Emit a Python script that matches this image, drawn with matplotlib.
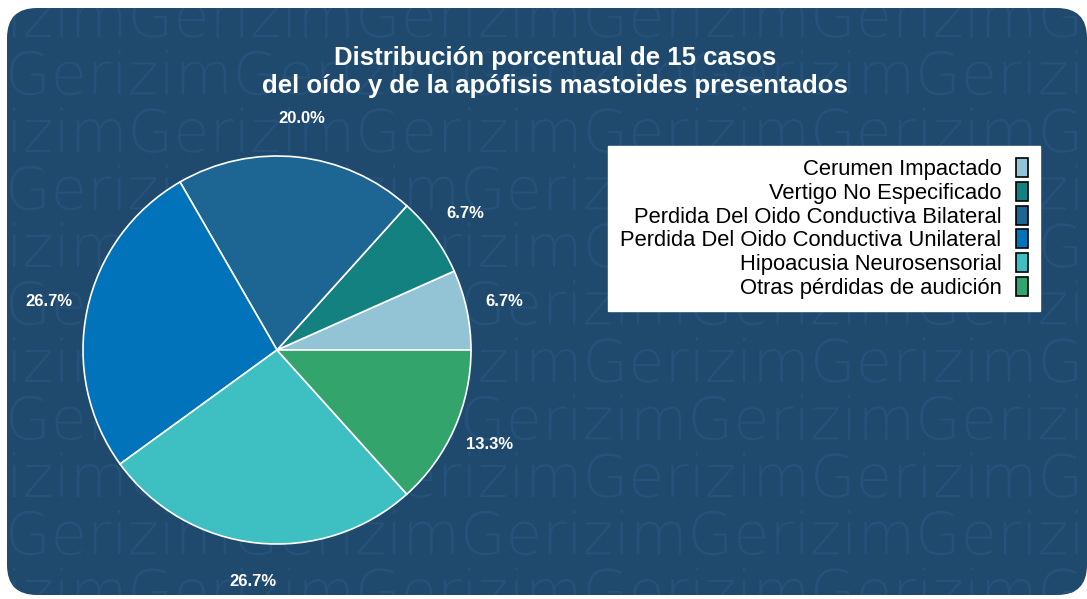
import matplotlib.pyplot as plt
from matplotlib.patches import FancyBboxPatch, Patch, PathPatch
from matplotlib.textpath import TextPath
from matplotlib.font_manager import FontProperties
from matplotlib.transforms import IdentityTransform

# data
categories = ['Cerumen Impactado', 'Vertigo No Especificado',
              'Perdida Del Oido Conductiva Bilateral',
              'Perdida Del Oido Conductiva Unilateral',
              'Hipoacusia Neurosensorial', 'Otras pérdidas de audición']
casos = [1, 1, 3, 4, 4, 2]
colores = ['#92c4d6', '#13817f', '#1d6592', '#0073bb', '#3ebfc1', '#33a46c']
titulo = 'Distribución porcentual de 15 casos\ndel oído y de la apófisis mastoides presentados'

W, H = 1087, 599
bg = '#1f4a6d'
wm = '#25517a'

plt.rcParams['font.family'] = ['Liberation Sans', 'DejaVu Sans']
fig = plt.figure(figsize=(W / 100, H / 100), dpi=100)
fig.patch.set_facecolor('white')

# rounded dark background
box = FancyBboxPatch((7, 4), 1080, 587, boxstyle='round,pad=0,rounding_size=30',
                     transform=IdentityTransform(), facecolor=bg, edgecolor='none',
                     zorder=0)
fig.patches.append(box)

# watermark rows (as paths so the rounded clip works)
fp = FontProperties(family='DejaVu Sans', weight='light')
for k in range(11):
    yb = H - (37 + 57.5 * k)
    x0 = -100 if k % 2 == 0 else 5
    tp = TextPath((x0, yb), 'Gerizim' * 7, size=59, prop=fp)
    pp = PathPatch(tp, transform=IdentityTransform(), facecolor=wm,
                   edgecolor='none', zorder=1)
    pp.set_clip_path(box)
    fig.patches.append(pp)

# pie
cx, cy, R = 277, H - 350, 194
ax = fig.add_axes([(cx - R) / W, (cy - R) / H, 2 * R / W, 2 * R / H], zorder=3)
wedges, texts, autotexts = ax.pie(casos, colors=colores, startangle=0, counterclock=True,
                                  autopct='%1.1f%%', pctdistance=1.2,
                                  wedgeprops=dict(edgecolor='white', linewidth=1.2),
                                  textprops=dict(color='white', fontsize=12,
                                                 fontweight='bold'))
ax.set_xlim(-1, 1)
ax.set_ylim(-1, 1)
ax.set_aspect('equal')
ax.axis('off')

fig.text(555 / W, 1 - 72 / H, titulo, ha='center', va='center', color='white',
         fontsize=18.5, fontweight='bold', linespacing=1.22, zorder=4)

handles = [Patch(facecolor=c, edgecolor='black', linewidth=1.2) for c in colores]
leg = fig.legend(handles, categories, loc='upper right',
                 bbox_to_anchor=(1040 / W, 1 - 146 / H), bbox_transform=fig.transFigure,
                 markerfirst=False, fontsize=15.8, frameon=True, fancybox=False,
                 borderpad=0.55, labelspacing=0.08, handlelength=0.55, handleheight=0.95,
                 handletextpad=0.65, borderaxespad=0)
leg.set_zorder(5)
leg.get_frame().set_facecolor('white')
leg.get_frame().set_edgecolor('white')
leg.get_frame().set_alpha(1)

fig.savefig('out.png', dpi=100, facecolor=fig.get_facecolor())
